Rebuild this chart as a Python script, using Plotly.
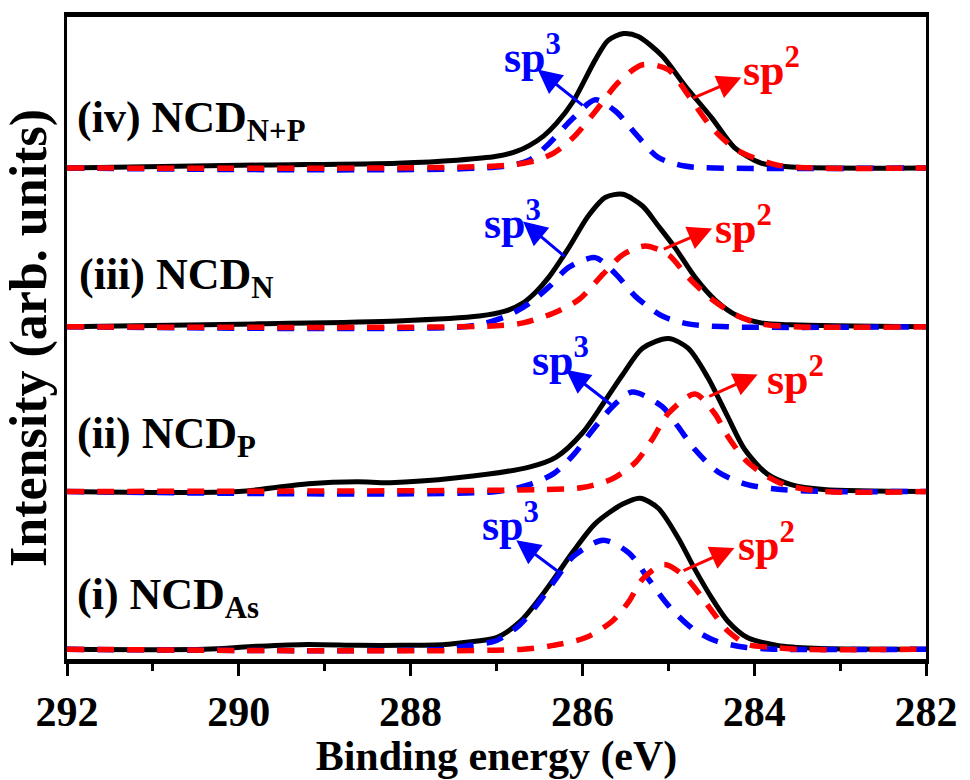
import plotly.graph_objects as go

# ---------------- data (binding energy in eV, intensity in arb. units above each baseline) -------------
sample_labels = ["(i) NCD<sub>As</sub>", "(ii) NCD<sub>P</sub>", "(iii) NCD<sub>N</sub>", "(iv) NCD<sub>N+P</sub>"]
offsets = [10, 172, 341, 504]

# (i) NCD_As
e_tot_i = [292.0, 290.4, 289.8, 289.2, 288.6, 288.1, 287.6, 287.38, 287.0, 286.73, 286.5, 286.31, 286.11, 285.85, 285.53, 285.33, 285.12, 284.89, 284.69, 284.49, 284.31, 284.08, 283.73, 283.3, 282.0]
i_tot_i = [0, 0, 3, 5, 4, 4, 5, 7, 12, 28, 52, 75, 100, 129, 149, 155, 145, 115, 82, 52, 29, 12, 4, 1, 0]
e_sp3_i = [292.0, 287.6, 287.38, 287.0, 286.73, 286.5, 286.31, 286.11, 285.76, 285.46, 285.23, 285.0, 284.73, 284.46, 284.11, 283.7, 282.0]
i_sp3_i = [0, 0, 3, 9, 25, 49, 72, 95, 112, 99, 72, 45, 22, 9, 2, 0, 0]
e_sp2_i = [292.0, 286.69, 286.34, 285.96, 285.65, 285.46, 285.3, 285.05, 284.8, 284.49, 284.31, 284.08, 283.8, 283.5, 282.0]
i_sp2_i = [0, 0, 4, 12, 29, 49, 72, 87, 74, 39, 19, 5, 2, 0, 0]

# (ii) NCD_P
e_tot_ii = [292.0, 290.0, 289.19, 288.62, 288.24, 287.46, 286.62, 286.31, 286.0, 285.76, 285.53, 285.3, 285.0, 284.77, 284.54, 284.31, 284.11, 283.85, 283.57, 283.19, 282.0]
i_tot_ii = [0, 0, 8, 10, 9, 14, 25, 35, 60, 90, 120, 147, 157, 147, 117, 77, 43, 18, 7, 2, 0]
e_sp3_ii = [292.0, 287.0, 286.62, 286.34, 286.11, 285.88, 285.65, 285.42, 285.07, 284.89, 284.69, 284.42, 284.08, 283.69, 283.19, 282.0]
i_sp3_ii = [0, 0, 7, 18, 37, 63, 87, 102, 87, 67, 43, 20, 7, 2, 0, 0]
e_sp2_ii = [292.0, 286.42, 286.0, 285.65, 285.38, 285.19, 285.0, 284.69, 284.46, 284.31, 284.11, 283.88, 283.65, 283.19, 282.0]
i_sp2_ii = [0, 2, 4, 13, 30, 53, 80, 100, 80, 57, 33, 17, 7, 0, 0]

# (iii) NCD_N
e_tot_iii = [292.0, 289.77, 288.15, 287.2, 286.9, 286.7, 286.55, 286.39, 286.16, 285.93, 285.73, 285.53, 285.3, 285.12, 284.92, 284.69, 284.46, 284.19, 283.92, 283.57, 282.0]
i_tot_iii = [0, 3, 6, 11, 16, 24, 35, 51, 81, 114, 133, 136, 124, 104, 81, 51, 28, 11, 4, 2, 0]
e_sp3_iii = [292.0, 287.38, 287.12, 286.88, 286.62, 286.39, 286.16, 285.85, 285.61, 285.38, 285.07, 284.77, 284.31, 282.0]
i_sp3_iii = [0, 0, 4, 11, 24, 41, 61, 71, 54, 31, 11, 3, 0, 0]
e_sp2_iii = [292.0, 287.0, 286.69, 286.34, 286.04, 285.76, 285.53, 285.27, 285.0, 284.77, 284.49, 284.19, 283.92, 283.54, 282.0]
i_sp2_iii = [0, 1, 4, 14, 28, 54, 74, 83, 74, 51, 28, 11, 3, 0, 0]

# (iv) NCD_N+P
e_tot_iv = [292.0, 289.77, 288.15, 287.46, 287.0, 286.77, 286.62, 286.45, 286.3, 286.11, 285.85, 285.7, 285.52, 285.35, 285.07, 284.81, 284.49, 284.23, 283.92, 283.57, 282.0]
i_tot_iv = [0, 3, 5, 8, 12, 17, 23, 33, 46, 68, 111, 131, 138, 135, 115, 85, 51, 21, 5, 1, 0]
e_sp3_iv = [292.0, 287.0, 286.62, 286.39, 286.11, 285.85, 285.61, 285.38, 285.12, 284.81, 284.46, 282.0]
i_sp3_iv = [0, 1, 8, 25, 51, 70, 58, 35, 11, 2, 0, 0]
e_sp2_iv = [292.0, 287.0, 286.62, 286.34, 286.11, 285.85, 285.58, 285.3, 285.0, 284.77, 284.49, 284.19, 283.73, 283.3, 282.0]
i_sp2_iv = [0, 2, 6, 15, 31, 58, 88, 106, 101, 75, 41, 18, 3, 0, 0]

tick_vals = [292, 290, 288, 286, 284, 282]
tick_text = ["292", "290", "288", "286", "284", "282"]

# annotation positions: (tail energy, tail y, head energy, head y) for arrows, text centre
sp3_arrows = [(286.27, 89, 286.77, 122), (285.65, 260, 286.19, 297), (286.19, 412, 286.69, 449), (285.98, 567, 286.52, 605)]
sp3_text = [(286.84, 140), (286.26, 310), (286.81, 450), (286.58, 620)]
sp2_arrows = [(284.84, 90, 284.23, 114), (284.54, 269, 283.96, 292), (285.07, 420, 284.49, 442), (284.73, 575, 284.15, 597)]
sp2_text = [(283.86, 120), (283.52, 290), (284.12, 445), (283.80, 607)]
label_pos = [(291.91, 63), (291.91, 228), (291.88, 392), (291.91, 553)]

# ---------------------------------------------------------------------------------------------
totals = [(e_tot_i, i_tot_i), (e_tot_ii, i_tot_ii), (e_tot_iii, i_tot_iii), (e_tot_iv, i_tot_iv)]
sp3s = [(e_sp3_i, i_sp3_i), (e_sp3_ii, i_sp3_ii), (e_sp3_iii, i_sp3_iii), (e_sp3_iv, i_sp3_iv)]
sp2s = [(e_sp2_i, i_sp2_i), (e_sp2_ii, i_sp2_ii), (e_sp2_iii, i_sp2_iii), (e_sp2_iv, i_sp2_iv)]

BLUE = "#0000ff"
RED = "#ff0000"
FONT = "Liberation Serif"

fig = go.Figure()
for (e, v), off in zip(totals, offsets):
    fig.add_trace(go.Scatter(x=e, y=[a + off for a in v], mode="lines",
                             line=dict(color="black", width=5, shape="spline", smoothing=0.8),
                             showlegend=False, hoverinfo="skip"))
for (e, v), off in zip(sp3s, offsets):
    fig.add_trace(go.Scatter(x=e, y=[a + off for a in v], mode="lines",
                             line=dict(color=BLUE, width=5.5, dash="17px,13px", shape="spline", smoothing=0.8),
                             showlegend=False, hoverinfo="skip"))
for (e, v), off in zip(sp2s, offsets):
    fig.add_trace(go.Scatter(x=e, y=[a + off for a in v], mode="lines",
                             line=dict(color=RED, width=5.5, dash="17px,13px", shape="spline", smoothing=0.8),
                             showlegend=False, hoverinfo="skip"))

annotations = []
for (tx, ty, hx, hy), (cx, cy) in zip(sp3_arrows, sp3_text):
    annotations.append(dict(x=hx, y=hy, ax=tx, ay=ty, xref="x", yref="y", axref="x", ayref="y",
                            text="", showarrow=True, arrowhead=2, arrowsize=1.6, arrowwidth=3,
                            arrowcolor=BLUE, standoff=0, startstandoff=0))
    annotations.append(dict(x=cx, y=cy, xref="x", yref="y", text="sp<sup>3</sup>", showarrow=False,
                            font=dict(family=FONT, size=44, color=BLUE, weight="bold"),
                            xanchor="center", yanchor="middle"))
for (tx, ty, hx, hy), (cx, cy) in zip(sp2_arrows, sp2_text):
    annotations.append(dict(x=hx, y=hy, ax=tx, ay=ty, xref="x", yref="y", axref="x", ayref="y",
                            text="", showarrow=True, arrowhead=2, arrowsize=1.6, arrowwidth=3,
                            arrowcolor=RED, standoff=0, startstandoff=0))
    annotations.append(dict(x=cx, y=cy, xref="x", yref="y", text="sp<sup>2</sup>", showarrow=False,
                            font=dict(family=FONT, size=44, color=RED, weight="bold"),
                            xanchor="center", yanchor="middle"))
for lab, (lx, ly) in zip(sample_labels, label_pos):
    annotations.append(dict(x=lx, y=ly, xref="x", yref="y", text=lab, showarrow=False,
                            font=dict(family=FONT, size=44, color="black", weight="bold"),
                            xanchor="left", yanchor="middle"))

fig.update_layout(
    width=970, height=780,
    margin=dict(l=67, r=35, t=13, b=108),
    paper_bgcolor="white", plot_bgcolor="white",
    annotations=annotations,
    font=dict(family=FONT, color="black"),
)
fig.update_xaxes(range=[292, 282], tickvals=tick_vals, ticktext=tick_text,
                 ticks="outside", ticklen=12, tickwidth=3, tickcolor="black",
                 minor=dict(dtick=1, ticks="outside", ticklen=7, tickwidth=3, tickcolor="black"),
                 showline=True, linewidth=5, linecolor="black", mirror=True,
                 showgrid=False, zeroline=False,
                 tickfont=dict(family=FONT, size=42, color="black", weight="bold"),
                 title=dict(text="Binding energy (eV)", standoff=3,
                            font=dict(family=FONT, size=42, color="black", weight="bold")))
fig.update_yaxes(range=[0, 659], showticklabels=False, ticks="",
                 showline=True, linewidth=3, linecolor="black", mirror=True,
                 showgrid=False, zeroline=False,
                 title=dict(text="Intensity (arb. units)", standoff=10,
                            font=dict(family=FONT, size=52, color="black", weight="bold")))

fig.write_html("out.html")
